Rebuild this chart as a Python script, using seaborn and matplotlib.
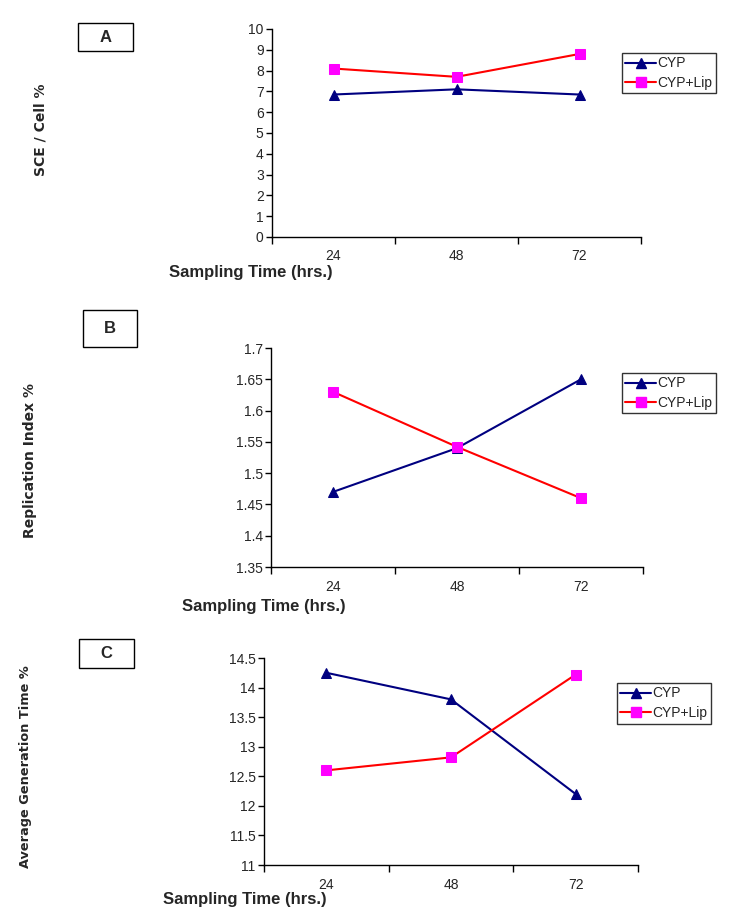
import numpy as np
import pandas as pd
import matplotlib
matplotlib.use('Agg')
import matplotlib.pyplot as plt
import seaborn as sns
from matplotlib.patches import Rectangle
from matplotlib.ticker import FuncFormatter
from matplotlib.lines import Line2D

# data
times = ['24', '48', '72']
series = ['CYP', 'CYP+Lip']

sce_cyp = [6.85, 7.1, 6.85]
sce_lip = [8.1, 7.7, 8.8]

ri_cyp = [1.47, 1.54, 1.65]
ri_lip = [1.63, 1.542, 1.46]

agt_cyp = [14.25, 13.8, 12.2]
agt_lip = [12.6, 12.82, 14.22]

panels = ['A', 'B', 'C']
ylabels = ['SCE / Cell %', 'Replication Index %', 'Average Generation Time %']
ylabel_sizes = [10, 10, 9.3]
yticks = [np.arange(0, 10.01, 1), np.arange(1.35, 1.701, 0.05), np.arange(11, 14.51, 0.5)]

sns.set_style('white')
plt.rcParams['font.family'] = ['Liberation Sans Narrow', 'Liberation Sans', 'DejaVu Sans']

W, H = 746, 921
fig = plt.figure(figsize=(W / 100, H / 100), dpi=100)

def fx(px):
    return px / W

def fy(py):
    return 1 - py / H

# pixel layout: axes (left, top, right, bottom), label box, legend anchor, xlabel, ylabel
layout = [
    dict(ax=(272, 29, 641, 237), box=(78, 23, 133, 51), leg=(622, 53), xl=(169, 272), yl=(41, 130)),
    dict(ax=(271, 348, 643, 567), box=(83, 310, 137, 347), leg=(622, 373), xl=(182, 606), yl=(30, 460)),
    dict(ax=(264, 658, 638, 865), box=(79, 639, 134, 668), leg=(617, 683), xl=(163, 899), yl=(26, 767)),
]

data = [(sce_cyp, sce_lip), (ri_cyp, ri_lip), (agt_cyp, agt_lip)]
colors = {'CYP': '#000080', 'CYP+Lip': '#ff0000'}
mfc = {'CYP': '#000080', 'CYP+Lip': '#ff00ff'}
markers = {'CYP': '^', 'CYP+Lip': 's'}

for i, (cyp, lip) in enumerate(data):
    L = layout[i]
    l, t, r, b = L['ax']
    ax = fig.add_axes([fx(l), fy(b), fx(r - l), (b - t) / H])

    df = pd.DataFrame({
        'pos': list(range(len(times))) * 2,
        'value': cyp + lip,
        'series': [series[0]] * len(times) + [series[1]] * len(times),
    })
    for s in series:
        sub = df[df['series'] == s]
        sns.lineplot(data=sub, x='pos', y='value', ax=ax, color=colors[s],
                     marker=markers[s], markersize=7, markerfacecolor=mfc[s],
                     markeredgecolor=mfc[s], linewidth=1.5, legend=False)

    yt = yticks[i]
    ax.set_ylim(yt[0], yt[-1])
    ax.set_yticks(yt)
    ax.yaxis.set_major_formatter(FuncFormatter(lambda v, p: '%g' % round(v, 2)))
    ax.set_xlim(-0.5, 2.5)
    ax.set_xticks(range(len(times)))
    ax.set_xticklabels(times)
    ax.set_xticks([-0.5, 0.5, 1.5, 2.5], minor=True)
    ax.tick_params(axis='x', which='major', length=0, pad=9, labelsize=10)
    ax.tick_params(axis='x', which='minor', length=5, width=1, direction='out', color='black', bottom=True)
    ax.tick_params(axis='y', length=4, width=1, direction='out', color='black', left=True, labelsize=10, pad=2)
    ax.set_xlabel('')
    ax.set_ylabel('')
    for sp in ['top', 'right']:
        ax.spines[sp].set_visible(False)
    for sp in ['left', 'bottom']:
        ax.spines[sp].set_color('black')
        ax.spines[sp].set_linewidth(1)
    ax.grid(False)

    handles = [Line2D([], [], color=colors[s], marker=markers[s], markersize=7,
                      markerfacecolor=mfc[s], markeredgecolor=mfc[s], linewidth=1.5)
               for s in series]
    leg = ax.legend(handles, series, loc='upper left',
                    bbox_to_anchor=(fx(L['leg'][0]), fy(L['leg'][1])),
                    bbox_transform=fig.transFigure, borderaxespad=0,
                    fancybox=False, frameon=True, edgecolor='black', fontsize=10,
                    handlelength=2.2, handletextpad=0.1, borderpad=0.25,
                    labelspacing=0.4)
    leg.get_frame().set_linewidth(1)

    # panel letter box
    bx0, by0, bx1, by1 = L['box']
    fig.add_artist(Rectangle((fx(bx0), fy(by1)), fx(bx1 - bx0), (by1 - by0) / H,
                             transform=fig.transFigure, fill=False,
                             edgecolor='black', linewidth=1))
    fig.text(fx((bx0 + bx1) / 2), fy((by0 + by1) / 2), panels[i], ha='center',
             va='center', fontsize=12, fontweight='bold')

    fig.text(fx(L['xl'][0]), fy(L['xl'][1]), 'Sampling Time (hrs.)', ha='left',
             va='center', fontsize=12, fontweight='bold')
    fig.text(fx(L['yl'][0]), fy(L['yl'][1]), ylabels[i], ha='center', va='center',
             rotation=90, fontsize=ylabel_sizes[i], fontweight='bold',
             family=['DejaVu Sans'])

fig.savefig('out.png', dpi=100)
